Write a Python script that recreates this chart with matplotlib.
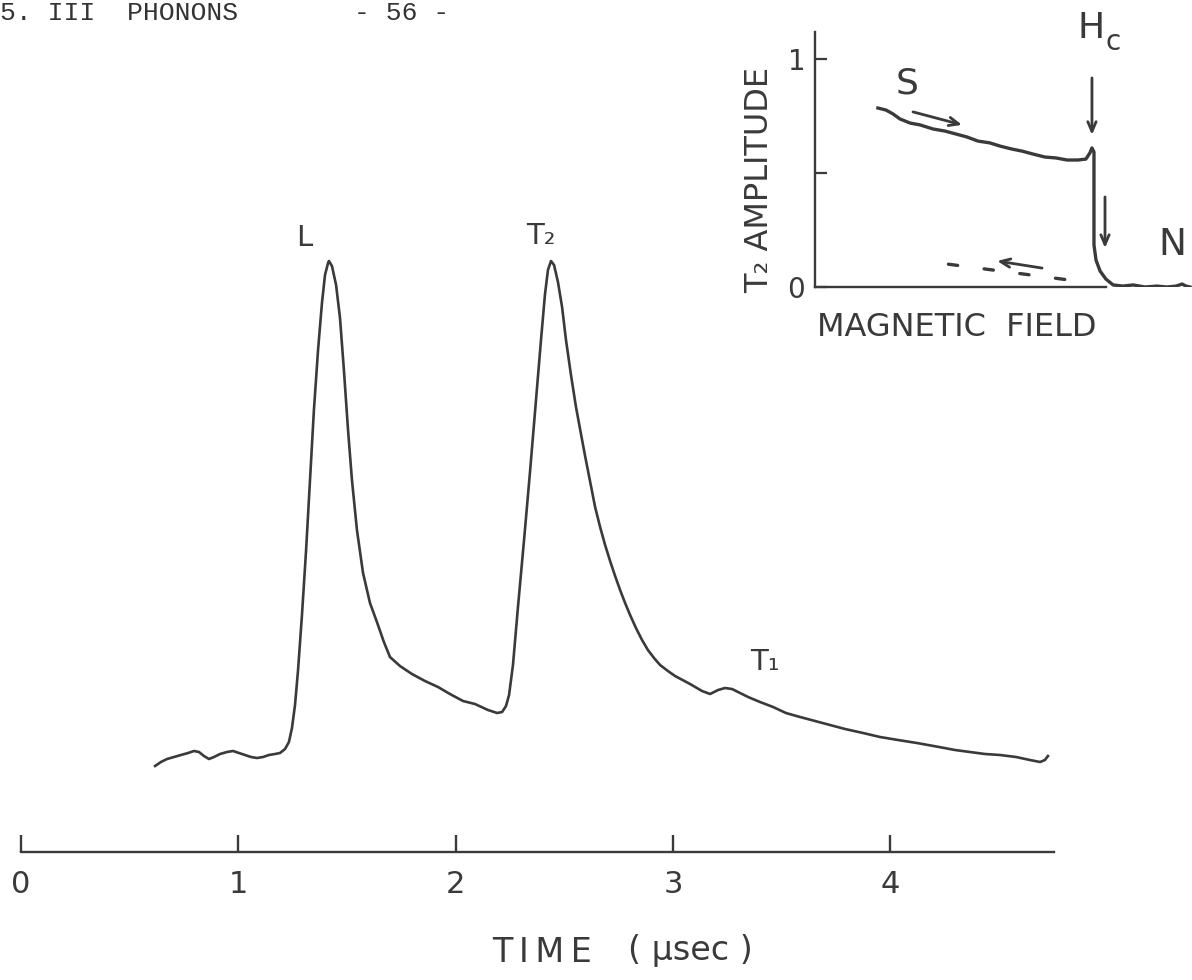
import matplotlib
matplotlib.use("Agg")
import matplotlib.pyplot as plt

plt.rcParams['font.family'] = ['DejaVu Sans']

W, H = 1192, 980
INK = '#3a3a3a'

# ---------------- main trace (time in microseconds, amplitude arbitrary) -------------
time_us = [0.617, 0.644, 0.672, 0.704, 0.736, 0.769, 0.796, 0.819, 0.842, 0.865,
           0.888, 0.916, 0.948, 0.976, 1.003, 1.031, 1.058, 1.086, 1.114, 1.141,
           1.169, 1.192, 1.215, 1.233, 1.247, 1.261, 1.275, 1.293, 1.312, 1.330,
           1.348, 1.367, 1.385, 1.399, 1.413, 1.417,
           1.431, 1.450, 1.468, 1.486, 1.505, 1.523, 1.546, 1.574, 1.606, 1.638,
           1.670, 1.698, 1.744, 1.799, 1.859, 1.919, 1.974, 2.034, 2.089, 2.149,
           2.191, 2.214,
           2.232, 2.246, 2.264, 2.287, 2.315, 2.342, 2.370, 2.393, 2.411, 2.425, 2.439,
           2.453, 2.471, 2.490, 2.508, 2.531, 2.554, 2.595, 2.642, 2.665, 2.688,
           2.711, 2.734, 2.757, 2.780, 2.803, 2.830, 2.858, 2.885, 2.913, 2.941,
           2.977, 3.010, 3.079, 3.134, 3.171, 3.208, 3.240,
           3.272, 3.309, 3.346, 3.401, 3.461, 3.520, 3.585, 3.654, 3.723, 3.792,
           3.875, 3.953, 4.036, 4.123, 4.225, 4.298, 4.367, 4.436, 4.505, 4.579,
           4.643, 4.690, 4.712, 4.726]
amplitude = [8.6, 9.0, 9.3, 9.5, 9.7, 9.9, 10.1, 10.0, 9.6, 9.3,
             9.5, 9.8, 10.0, 10.1, 9.9, 9.7, 9.5, 9.4, 9.5, 9.7,
             9.8, 9.9, 10.3, 11.0, 12.4, 14.7, 18.2, 23.7, 30.2, 37.2,
             44.2, 50.2, 54.9, 57.7, 58.9, 59.1,
             58.6, 56.7, 53.4, 48.2, 42.2, 37.2, 32.2, 27.9, 24.9, 23.0,
             21.0, 19.5, 18.6, 17.8, 17.1, 16.5, 15.8, 15.1, 14.8, 14.2,
             13.9, 14.0,
             14.6, 15.7, 18.7, 24.5, 31.2, 37.9, 45.2, 51.2, 55.7, 58.2, 59.1,
             58.7, 57.0, 54.5, 51.2, 47.7, 44.5, 39.7, 34.5, 32.5, 30.7,
             29.1, 27.6, 26.2, 24.9, 23.7, 22.4, 21.2, 20.2, 19.4, 18.7,
             18.1, 17.6, 16.8, 16.1, 15.8, 16.2, 16.4,
             16.3, 15.9, 15.5, 15.0, 14.5, 13.9, 13.5, 13.1, 12.7, 12.3,
             11.9, 11.5, 11.2, 10.9, 10.5, 10.2, 10.0, 9.8, 9.7, 9.5,
             9.2, 9.0, 9.2, 9.6]

time_ticks = [0, 1, 2, 3, 4]
axis_end_us = 4.754

# ---------------- inset trace (field arbitrary, H = Hc at ~0.96) ---------------------
field = [0.217, 0.245, 0.269, 0.293, 0.328, 0.362, 0.407, 0.448, 0.486, 0.524,
         0.562, 0.603, 0.638, 0.679, 0.714, 0.752, 0.793, 0.831, 0.869, 0.907,
         0.934, 0.948, 0.955, 0.962, 0.962, 0.962, 0.962, 0.969, 0.983, 1.003,
         1.028, 1.062, 1.097, 1.138, 1.179, 1.214, 1.245, 1.266, 1.279, 1.293]
t2_amp = [0.785, 0.776, 0.759, 0.737, 0.719, 0.711, 0.693, 0.684, 0.671, 0.658,
          0.640, 0.632, 0.618, 0.605, 0.596, 0.583, 0.570, 0.566, 0.557, 0.557,
          0.561, 0.588, 0.610, 0.592, 0.469, 0.294, 0.184, 0.118, 0.070, 0.035,
          0.009, 0.004, 0.009, 0.000, 0.004, 0.000, 0.004, 0.013, 0.004, 0.000]
return_field = [0.46, 0.94]
return_amp = [0.10, 0.02]
amp_ticks = [0, 0.5, 1]
amp_ticklabels = ['0', '', '1']


def fx(x):
    return x / W


def fy(y):
    return 1 - y / H


fig = plt.figure(figsize=(W / 100, H / 100), dpi=100)
fig.patch.set_facecolor('white')

# ---------------- main axes ----------------
ax = fig.add_axes([0, 0, 1, 1])
ax.set_xlim(-21 / 217.3, (W - 21) / 217.3)
ax.set_ylim(-12.8, 85.2)
ax.patch.set_alpha(0)
ax.plot(time_us, amplitude, color=INK, lw=1.9, solid_joinstyle='round')
for s in ['top', 'right', 'left']:
    ax.spines[s].set_visible(False)
ax.spines['bottom'].set_position(('data', 0))
ax.spines['bottom'].set_bounds(0, axis_end_us)
ax.spines['bottom'].set_linewidth(1.7)
ax.spines['bottom'].set_color(INK)
ax.set_yticks([])
ax.set_xticks(time_ticks)
ax.set_xticklabels([str(t) for t in time_ticks])
ax.tick_params(axis='x', direction='in', length=12, width=1.7, color=INK,
               labelsize=22, labelcolor=INK, pad=13)

fig.text(fx(304), fy(238), 'L', fontsize=21, color=INK, ha='center', va='center')
fig.text(fx(541), fy(236), 'T\u2082', fontsize=21, color=INK, ha='center', va='center')
fig.text(fx(765), fy(662), 'T\u2081', fontsize=21, color=INK, ha='center', va='center')
fig.text(fx(542), fy(952), 'T\u2009I\u2009M\u2009E', fontsize=24, color=INK,
         ha='center', va='center')
fig.text(fx(690), fy(950), '( \u00b5sec )', fontsize=24, color=INK, ha='center', va='center')

# header
fig.text(fx(0), fy(20), '5. III  PHONONS', family='Liberation Mono', fontsize=19,
         color='#333333', va='baseline', ha='left')
fig.text(fx(402), fy(20), '- 56 -', family='Liberation Mono', fontsize=19,
         color='#333333', va='baseline', ha='center')

# ---------------- inset axes ----------------
left_px, right_px, bottom_px, top_px = 815, W, 287, 32
ax2 = fig.add_axes([fx(left_px), fy(bottom_px), (right_px - left_px) / W,
                    (bottom_px - top_px) / H])
ax2.set_xlim(0, (right_px - left_px) / 290)
ax2.set_ylim(0, (bottom_px - top_px) / 228)
ax2.patch.set_alpha(0)
ax2.plot(field, t2_amp, color=INK, lw=2.4, solid_joinstyle='round')
ax2.plot(return_field, return_amp, color=INK, lw=2.4, linestyle=(0, (2.8, 8.0)),
         solid_capstyle='round', dash_capstyle='round')
for s in ['top', 'right']:
    ax2.spines[s].set_visible(False)
ax2.spines['left'].set_bounds(0, (bottom_px - top_px) / 228)
ax2.spines['bottom'].set_bounds(0, 1.005)
for s in ['left', 'bottom']:
    ax2.spines[s].set_linewidth(1.7)
    ax2.spines[s].set_color(INK)
ax2.set_xticks([])
ax2.set_yticks(amp_ticks)
ax2.set_yticklabels(amp_ticklabels)
ax2.tick_params(axis='y', direction='in', length=8.5, width=1.6, color=INK,
                labelsize=20, labelcolor=INK, pad=7)

arrow_kw = dict(arrowstyle='->,head_length=0.7,head_width=0.3', lw=2.0, color=INK,
                shrinkA=0, shrinkB=0)
ax2.annotate('', xy=(0.507, 0.711), xytext=(0.338, 0.768), arrowprops=arrow_kw)
ax2.annotate('', xy=(0.628, 0.114), xytext=(0.783, 0.083), arrowprops=arrow_kw)
ax2.annotate('', xy=(0.955, 0.667), xytext=(0.955, 0.917), arrowprops=arrow_kw)
ax2.annotate('', xy=(1.000, 0.171), xytext=(1.000, 0.395), arrowprops=arrow_kw)

fig.text(fx(907), fy(83), 'S', fontsize=26, color=INK, ha='center', va='center')
fig.text(fx(1091), fy(28), 'H', fontsize=26, color=INK, ha='center', va='center')
fig.text(fx(1113), fy(42), 'c', fontsize=20, color=INK, ha='center', va='center')
fig.text(fx(1172), fy(245), 'N', fontsize=27, color=INK, ha='center', va='center')
fig.text(fx(957), fy(328), 'MAGNETIC  FIELD', fontsize=23, color=INK,
         ha='center', va='center')
fig.text(fx(760), fy(180), 'T\u2082 AMPLITUDE', fontsize=23, color=INK,
         ha='center', va='center', rotation=90)

fig.savefig('out.png', dpi=100, facecolor='white')
